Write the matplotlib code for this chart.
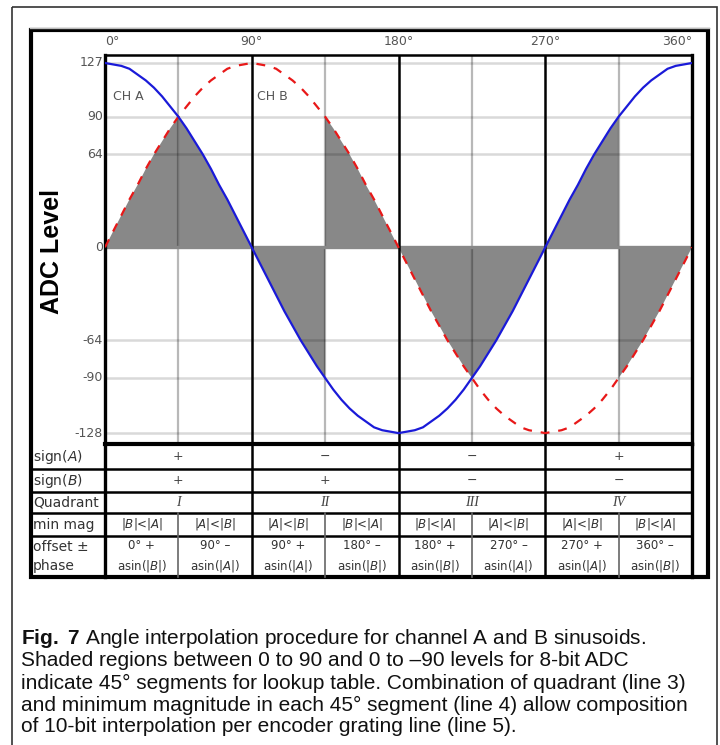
import matplotlib
matplotlib.use("Agg")
import matplotlib.pyplot as plt
import numpy as np
from matplotlib.patches import Rectangle

plt.rcParams['mathtext.fontset'] = 'custom'
plt.rcParams['mathtext.rm'] = 'DejaVu Sans'
plt.rcParams['mathtext.it'] = 'DejaVu Sans:italic'
plt.rcParams['mathtext.bf'] = 'Liberation Sans:bold'

# angle samples (deg) and the two ADC channels
angle = np.arange(0, 361, 5)
ch_a = [127, 126, 125, 123, 119, 115, 110, 104, 97, 90, 82, 73, 64, 54, 43, 33, 22, 11, 0,
        -11, -22, -33, -44, -54, -64, -73, -82, -90, -98, -105, -111, -116, -120, -124, -126, -127, -128,
        -127, -126, -124, -120, -116, -111, -105, -98, -90, -82, -73, -64, -54, -44, -33, -22, -11, 0,
        11, 22, 33, 43, 54, 64, 73, 82, 90, 97, 104, 110, 115, 119, 123, 125, 126, 127]
ch_b = [0, 11, 22, 33, 43, 54, 64, 73, 82, 90, 97, 104, 110, 115, 119, 123, 125, 126, 127,
        126, 125, 123, 119, 115, 110, 104, 97, 90, 82, 73, 64, 54, 43, 33, 22, 11, 0,
        -11, -22, -33, -44, -54, -64, -73, -82, -90, -98, -105, -111, -116, -120, -124, -126, -127, -128,
        -127, -126, -124, -120, -116, -111, -105, -98, -90, -82, -73, -64, -54, -44, -33, -22, -11, 0]

ytick_vals = [127, 90, 64, 0, -64, -90, -128]
xtick_vals = [0, 90, 180, 270, 360]

row_labels = ['sign($A$)', 'sign($B$)', 'Quadrant', 'min mag', 'offset \u00b1\nphase']
sign_a = ['+', '\u2212', '\u2212', '+']
sign_b = ['+', '+', '\u2212', '\u2212']
quadrant = ['I', 'II', 'III', 'IV']
min_mag = ['|$B$|<|$A$|', '|$A$|<|$B$|', '|$A$|<|$B$|', '|$B$|<|$A$|',
           '|$B$|<|$A$|', '|$A$|<|$B$|', '|$A$|<|$B$|', '|$B$|<|$A$|']
offsets = ['0\u00b0 +\nasin(|$B$|)', '90\u00b0 \u2013\nasin(|$A$|)',
           '90\u00b0 +\nasin(|$A$|)', '180\u00b0 \u2013\nasin(|$B$|)',
           '180\u00b0 +\nasin(|$B$|)', '270\u00b0 \u2013\nasin(|$A$|)',
           '270\u00b0 +\nasin(|$A$|)', '360\u00b0 \u2013\nasin(|$B$|)']

caption = [r'$\bf{Fig.}$ $\bf{7}$ Angle interpolation procedure for channel A and B sinusoids.',
           'Shaded regions between 0 to 90 and 0 to \u201390 levels for 8-bit ADC',
           'indicate 45\u00b0 segments for lookup table. Combination of quadrant (line 3)',
           'and minimum magnitude in each 45\u00b0 segment (line 4) allow composition',
           'of 10-bit interpolation per encoder grating line (line 5).']

W, H = 720, 745
X0, X1 = 105, 692
fig = plt.figure(figsize=(7.2, 7.45), dpi=100)

page = fig.add_axes([0, 0, 1, 1])
page.set_xlim(0, W)
page.set_ylim(H, 0)
page.axis('off')

ax = fig.add_axes([X0 / W, 1 - 444 / H, (X1 - X0) / W, 389 / H])
ax.set_xlim(0, 360)
ax.set_ylim(-135.5, 132.5)
ax.set_xticks([])
ax.set_yticks([])

a = np.array(ch_a)
b = np.array(ch_b)
# shade the channel with the smaller magnitude in each 45 deg segment
ax.fill_between(angle, 0, a, where=np.abs(a) <= np.abs(b), color='#888888', lw=0, zorder=1)
ax.fill_between(angle, 0, b, where=np.abs(b) <= np.abs(a), color='#888888', lw=0, zorder=1)

for v in ytick_vals:
    if v != 0:
        ax.axhline(v, color='k', alpha=0.15, lw=1.8, zorder=2)
for v in [45, 135, 225, 315]:
    ax.axvline(v, color='k', alpha=0.28, lw=1.6, zorder=2)
ax.axhline(0, color='#888888', lw=2.4, zorder=2)
for v in [90, 180, 270]:
    ax.axvline(v, color='k', lw=1.8, zorder=3)

ax.plot(angle, ch_b, color='#e81818', lw=1.6, dashes=(4, 4), zorder=4)
ax.plot(angle, ch_a, color='#1a1ad8', lw=1.6, zorder=5)

for s in ['left', 'right']:
    ax.spines[s].set_linewidth(2.4)
ax.spines['top'].set_linewidth(1.8)
ax.spines['bottom'].set_linewidth(3)

for v in ytick_vals:
    ax.text(-1.2, v, str(v), ha='right', va='center', fontsize=9, color='#555555')
for v in xtick_vals:
    ha = 'left' if v == 0 else ('right' if v == 360 else 'center')
    ax.text(v, 141.5, f'{v}\u00b0', ha=ha, va='center', fontsize=9, color='#555555')
ax.text(5, 104, 'CH A', ha='left', va='center', fontsize=9, color='#555555')
ax.text(93, 104, 'CH B', ha='left', va='center', fontsize=9, color='#555555')

page.text(52, 252, 'ADC Level', rotation=90, ha='center', va='center',
          fontsize=18, fontweight='bold', family='Liberation Sans')


def px(theta):
    return X0 + theta * (X1 - X0) / 360


rows_y = [444, 469, 492, 513, 536, 577]
for y in rows_y[1:-1]:
    page.plot([31, X1], [y, y], color='k', lw=1.8)
page.plot([X0, X0], [444, 577], color='k', lw=2.4)
page.plot([X1, X1], [444, 577], color='k', lw=2.4)
for t in [90, 180, 270]:
    page.plot([px(t), px(t)], [444, 577], color='k', lw=1.8)
for t in [45, 135, 225, 315]:
    page.plot([px(t), px(t)], [513, 577], color='#666666', lw=1.2)

mid = [(rows_y[i] + rows_y[i + 1]) / 2 for i in range(5)]
for i, lab in enumerate(row_labels):
    page.text(33, mid[i], lab, ha='left', va='center', fontsize=10,
              color='#333333', linespacing=1.45)

qc = [45, 135, 225, 315]
for i in range(4):
    page.text(px(qc[i]), mid[0], sign_a[i], ha='center', va='center', fontsize=9, color='#444444')
    page.text(px(qc[i]), mid[1], sign_b[i], ha='center', va='center', fontsize=9, color='#444444')
    page.text(px(qc[i]), mid[2], quadrant[i], ha='center', va='center', fontsize=10,
              family='Liberation Serif', style='italic', color='#444444')
sc = [22.5 + 45 * k for k in range(8)]
for i in range(8):
    page.text(px(sc[i]), mid[3], min_mag[i], ha='center', va='center', fontsize=8.5, color='#333333')
    page.text(px(sc[i]), mid[4], offsets[i], ha='center', va='center', fontsize=8.5,
              color='#333333', linespacing=1.5)

# frames
page.add_patch(Rectangle((31, 30), 677, 547, fill=False, lw=3, ec='k'))
page.plot([30, 709], [27.5, 27.5], color='#bbbbbb', lw=1)
page.add_patch(Rectangle((12, 7), 705, 740, fill=False, lw=1.2, ec='#333333'))

cap_y = [639, 661, 683, 705, 727]
for y, line in zip(cap_y, caption):
    page.text(21, y, line, ha='left', va='center', fontsize=15,
              family='Liberation Sans', color='#111111')

fig.savefig('out.png', dpi=100)
